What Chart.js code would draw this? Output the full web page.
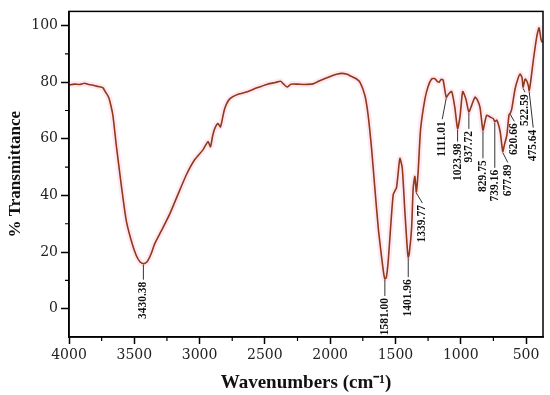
<!DOCTYPE html>
<html>
<head>
<meta charset="utf-8">
<script src="https://cdn.jsdelivr.net/npm/chart.js@4.4.1/dist/chart.umd.min.js"></script>
<style>
  html, body { margin: 0; padding: 0; background: #fff; }
  #wrap { width: 550px; height: 395px; }
</style>
</head>
<body>
<div id="wrap"><canvas id="ftir" width="550" height="395"></canvas></div>
<script>
// spectrum (wavenumber in cm-1, % transmittance)
const wavenumbers = [4000, 3960, 3920, 3880, 3850, 3820, 3790, 3760, 3740, 3720, 3700, 3689, 3664, 3638, 3613, 3587, 3561, 3523, 3485, 3455, 3430, 3410, 3396, 3370, 3344, 3293, 3229, 3166, 3101, 3038, 2974, 2936, 2917, 2900, 2884, 2859, 2840, 2808, 2769, 2700, 2641, 2560, 2480, 2420, 2380, 2360, 2330, 2300, 2250, 2200, 2132, 2080, 2000, 1950, 1910, 1870, 1849, 1800, 1772, 1734, 1709, 1683, 1658, 1632, 1606, 1590, 1581, 1570, 1555, 1537, 1517, 1500, 1492, 1480, 1466, 1448, 1428, 1410, 1402, 1394, 1376, 1364, 1351, 1340, 1326, 1307, 1274, 1250, 1223, 1200, 1184, 1165, 1150, 1135, 1111, 1090, 1069, 1045, 1024, 1005, 985, 960, 938, 915, 890, 870, 852, 830, 815, 801, 775, 750, 739, 724, 698, 678, 665, 647, 630, 621, 609, 584, 560, 545, 530, 523, 507, 495, 481, 476, 465, 443, 417, 400, 385, 375];
const transmittance = [79.0, 79.3, 79.2, 79.6, 79.2, 79.0, 78.6, 78.3, 78.0, 76.5, 75.0, 73.6, 68.3, 57.8, 48.5, 39.2, 31.0, 24.0, 18.8, 16.5, 15.9, 16.3, 17.0, 19.5, 22.9, 27.5, 33.4, 40.3, 47.3, 52.6, 56.1, 59.0, 57.2, 61.0, 63.6, 65.4, 64.2, 70.6, 74.1, 75.8, 76.5, 78.0, 79.3, 79.9, 80.3, 79.5, 78.3, 79.3, 79.3, 79.2, 79.4, 80.5, 82.0, 82.8, 83.1, 82.8, 82.3, 81.2, 80.0, 75.3, 68.3, 56.6, 42.7, 28.7, 18.2, 12.5, 10.5, 11.0, 17.0, 28.7, 40.3, 42.0, 42.7, 47.5, 53.1, 49.7, 34.5, 21.7, 18.2, 19.5, 28.7, 42.7, 46.7, 41.2, 48.5, 63.6, 74.1, 78.5, 81.1, 81.3, 80.5, 80.0, 81.0, 80.8, 74.7, 76.0, 76.7, 71.0, 63.6, 68.0, 76.7, 74.0, 69.5, 72.0, 74.7, 73.5, 71.0, 63.0, 66.0, 68.3, 67.7, 67.1, 66.0, 66.6, 62.5, 55.5, 58.0, 61.3, 68.5, 69.0, 70.6, 77.6, 81.5, 82.9, 81.5, 78.2, 81.1, 80.5, 78.5, 77.0, 80.0, 88.1, 96.3, 99.2, 95.1, 94.0];

// axis ticks
const xTicks = [4000, 3500, 3000, 2500, 2000, 1500, 1000, 500];
const xMinorTicks = [3750, 3250, 2750, 2250, 1750, 1250, 750];
const yTicks = [0, 20, 40, 60, 80, 100];
const yMinorTicks = [10, 30, 50, 70, 90];

// labelled bands
const peakLabels = ['3430.38', '1581.00', '1401.96', '1339.77', '1111.01', '1023.98', '937.72', '829.75', '739.16', '677.89', '620.66', '522.59', '475.64'];
const peakWn = [3430.38, 1581.00, 1401.96, 1339.77, 1111.01, 1023.98, 937.72, 829.75, 739.16, 677.89, 620.66, 522.59, 475.64];
const peakT = [15.9, 10.5, 18.2, 41.2, 74.7, 63.6, 69.5, 63.0, 66.0, 55.5, 69.0, 78.2, 77.0];

// leader line for each label: [length px, sideways shift px]
const leaders = [[16, 0], [17, 0], [20, 0], [11, 6], [22, -4], [13, 0], [17, 0], [28, 0], [46, 0], [11, 5], [8, 4], [5, 2], [37, 4]];

const spectrum = wavenumbers.map((w, i) => ({ x: w, y: transmittance[i] }));

const frameAndLabels = {
  id: 'frameAndLabels',
  afterDraw(chart) {
    const ctx = chart.ctx;
    const a = chart.chartArea;
    const xs = chart.scales.x, ys = chart.scales.y;
    ctx.save();
    ctx.strokeStyle = '#000';
    ctx.lineWidth = 1.5;
    ctx.strokeRect(a.left, a.top, a.right - a.left, a.bottom - a.top);

    // minor ticks
    ctx.lineWidth = 1.2;
    ctx.beginPath();
    yMinorTicks.forEach(v => {
      const y = ys.getPixelForValue(v);
      ctx.moveTo(a.left - 4, y);
      ctx.lineTo(a.left, y);
    });
    xMinorTicks.forEach(v => {
      const x = xs.getPixelForValue(v);
      ctx.moveTo(x, a.bottom);
      ctx.lineTo(x, a.bottom + 4);
    });
    ctx.stroke();

    // band labels
    ctx.font = 'bold 11.5px "Liberation Serif"';
    ctx.fillStyle = '#111';
    ctx.strokeStyle = '#333';
    ctx.lineWidth = 1;
    peakWn.forEach((w, i) => {
      const x = xs.getPixelForValue(w);
      const y = ys.getPixelForValue(peakT[i]);
      const len = leaders[i][0], dx = leaders[i][1];
      ctx.beginPath();
      ctx.moveTo(x, y + 1);
      ctx.lineTo(x + dx, y + len);
      ctx.stroke();
      ctx.save();
      ctx.translate(x + dx, y + len + 2);
      ctx.rotate(-Math.PI / 2);
      ctx.textAlign = 'right';
      ctx.textBaseline = 'middle';
      ctx.fillText(peakLabels[i], 0, 0);
      ctx.restore();
    });
    ctx.restore();
  }
};

new Chart(document.getElementById('ftir'), {
  type: 'line',
  data: {
    datasets: [
      {
        data: spectrum,
        borderColor: '#8e3a1a',
        borderWidth: 1.6,
        pointRadius: 0,
        tension: 0.2,
        order: 1
      },
      {
        data: spectrum,
        borderColor: 'rgba(255, 180, 210, 0.3)',
        borderWidth: 6,
        pointRadius: 0,
        tension: 0.2,
        order: 2
      }
    ]
  },
  options: {
    responsive: false,
    animation: false,
    layout: { padding: { top: 8, right: 7, left: 0, bottom: 0 } },
    plugins: { legend: { display: false }, tooltip: { enabled: false } },
    scales: {
      x: {
        type: 'linear',
        reverse: true,
        min: 370,
        max: 4000,
        afterBuildTicks: s => { s.ticks = xTicks.map(v => ({ value: v })); },
        ticks: {
          maxRotation: 0,
          padding: 3,
          color: '#222',
          font: { family: 'DejaVu Serif', size: 14 },
          callback: v => String(v)
        },
        grid: { drawOnChartArea: false, tickLength: 7, tickWidth: 1.5, tickColor: '#000' },
        border: { color: '#000', width: 1.5 },
        title: {
          display: true,
          text: 'Wavenumbers (cm\u207B\u00B9)',
          color: '#111',
          font: { family: 'Liberation Serif', size: 19, weight: 'bold' },
          padding: { top: 0, bottom: 1 }
        },
        afterFit: s => { s.height = 58; }
      },
      y: {
        min: -10,
        max: 105,
        afterBuildTicks: s => { s.ticks = yTicks.map(v => ({ value: v })); },
        ticks: {
          padding: 3,
          color: '#222',
          font: { family: 'DejaVu Serif', size: 14 },
          callback: v => String(v)
        },
        grid: { drawOnChartArea: false, tickLength: 8, tickWidth: 1.5, tickColor: '#000' },
        border: { color: '#000', width: 1.5 },
        title: {
          display: true,
          text: '% Transmittance',
          color: '#111',
          font: { family: 'Liberation Serif', size: 17, weight: 'bold' },
          padding: { top: 5, bottom: 0 }
        },
        afterFit: s => { s.width = 69; }
      }
    }
  },
  plugins: [frameAndLabels]
});
</script>
</body>
</html>
